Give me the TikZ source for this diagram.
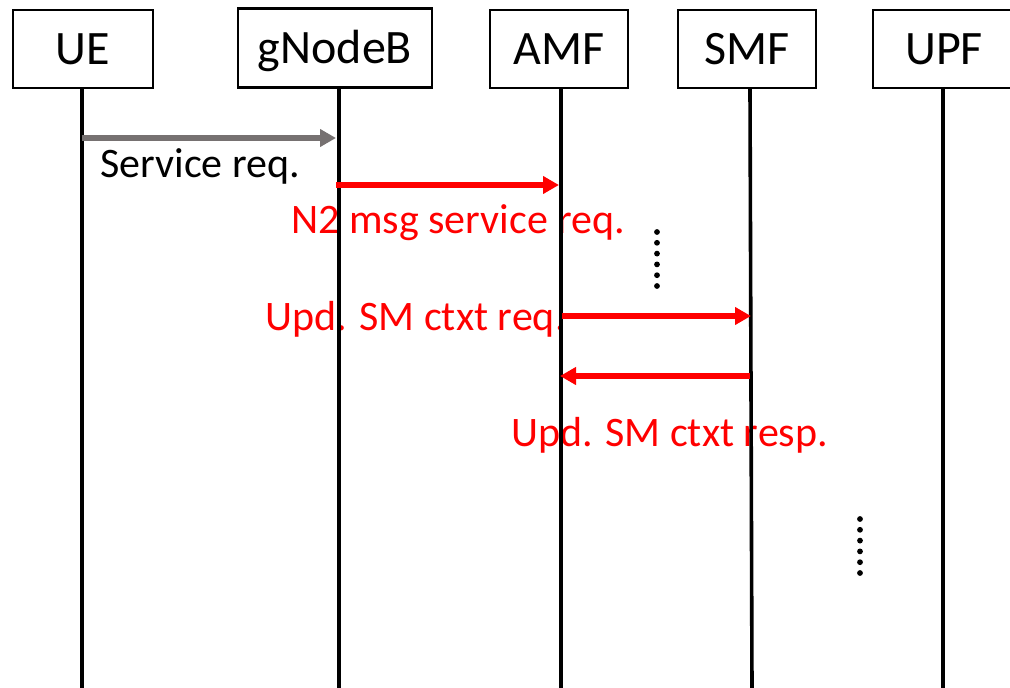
\documentclass[tikz,border=0pt]{standalone}
\usepackage{fontspec}
\setmainfont{Carlito}
\usetikzlibrary{arrows.meta}
\definecolor{msgred}{RGB}{255,0,0}
\definecolor{msggrey}{RGB}{118,113,113}
\begin{document}
\begin{tikzpicture}[x=1pt,y=-1pt,
  entity/.style={draw=black,line width=2.3pt,minimum height=78pt,inner sep=0pt,
    text height=31pt,text depth=0pt,font=\fontsize{48}{56}\selectfont},
  lifeline/.style={line width=3.6pt,black},
  msg/.style={line width=6.5pt,-{Triangle[length=16pt,width=17pt]}},
  lbl/.style={anchor=base west,inner sep=0pt,font=\fontsize{42}{50}\selectfont}]
\useasboundingbox (0,0) rectangle (1010,688);

% entities
\node[entity,minimum width=140pt] (ue)  at (83,49)   {UE};
\node[entity,minimum width=194pt,minimum height=79pt] (gnb) at (335,48) {gNodeB};
\node[entity,minimum width=138pt] (amf) at (559,49)  {AMF};
\node[entity,minimum width=138pt] (smf) at (747,49)  {SMF};
\node[entity,minimum width=142pt] (upf) at (944,49)  {UPF};

% lower ends of the lifelines
\coordinate (ueB)  at (82,688);
\coordinate (gnbB) at (339,688);
\coordinate (amfB) at (561,688);
\coordinate (smfB) at (752,688);
\coordinate (upfB) at (943,688);

% message labels
\node[lbl] (l1) at (100,177) {Service req.};
\node[lbl,text=msgred] (l2) at (291,233) {N2 msg service req.};
\node[lbl,text=msgred] (l3) at (265,330) {Upd. SM ctxt req.};
\node[lbl,text=msgred] (l4) at (511,446) {Upd. SM ctxt resp.};

% lifelines
\draw[lifeline] (ue.south -| ueB)   -- (ueB);
\draw[lifeline] (gnb.south -| gnbB) -- (gnbB);
\draw[lifeline] (amf.south -| amfB) -- (amfB);
\draw[lifeline] ([xshift=-2pt]smf.south -| smfB) -- (smfB);
\draw[lifeline] (upf.south -| upfB) -- (upfB);

% messages
\draw[msg,msggrey,line width=5.5pt] (ueB |- 0,138) -- ([xshift=-3pt]gnbB |- 0,138);
\draw[msg,msgred] ([xshift=-3pt]gnbB |- 0,185) -- ([xshift=-2pt]amfB |- 0,185);
\draw[msg,msgred] ([xshift=1pt]amfB |- 0,316) -- ([xshift=-1pt]smfB |- 0,316);
\draw[msg,msgred] ([xshift=-2pt]smfB |- 0,376) -- ([xshift=-1pt]amfB |- 0,376);

% continuation dots
\foreach \k in {0,...,5} {
  \fill (657,232+10.8*\k) circle (2.9pt);
  \fill (860,519+10.8*\k) circle (2.9pt);
}
\end{tikzpicture}
\end{document}
